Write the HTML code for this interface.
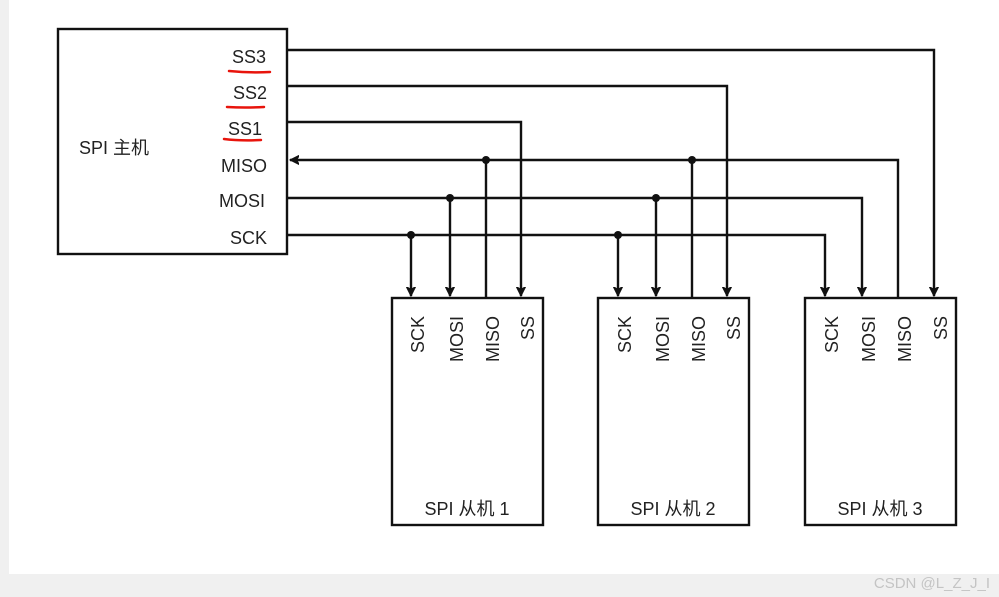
<!DOCTYPE html>
<html><head><meta charset="utf-8"><style>
html,body{margin:0;padding:0;background:#fff;}
svg{display:block;}
text{font-family:"Liberation Sans","Noto Sans CJK SC",sans-serif;fill:#222;font-size:18px;}
</style></head><body>
<svg width="999" height="597" viewBox="0 0 999 597" xmlns="http://www.w3.org/2000/svg">
<defs>
<marker id="a" markerWidth="10" markerHeight="10" refX="9" refY="5" orient="auto" markerUnits="userSpaceOnUse">
<path d="M0,0 L10,5 L0,10 L3,5 Z" fill="#111" transform="scale(1.2,1.2) translate(-1.5,-0.8)"/>
</marker>
</defs>
<rect x="0" y="0" width="9" height="597" fill="#f0f0f0"/>
<rect x="0" y="574" width="999" height="23" fill="#f0f0f0"/>
<text x="990" y="588" text-anchor="end" style="font-size:15px;fill:#c4c4c4">CSDN @L_Z_J_I</text>
<g stroke="#111" stroke-width="2.4" fill="none">
<rect x="58" y="29" width="229" height="225"/>
<rect x="392" y="298" width="151" height="227"/>
<rect x="598" y="298" width="151" height="227"/>
<rect x="805" y="298" width="151" height="227"/>
<polyline points="287,50 934,50 934,296" marker-end="url(#a)"/>
<polyline points="287,86 727,86 727,296" marker-end="url(#a)"/>
<polyline points="287,122 521,122 521,296" marker-end="url(#a)"/>
<polyline points="898,298 898,160 290,160" marker-end="url(#a)"/>
<line x1="486" y1="160" x2="486" y2="298"/>
<line x1="692" y1="160" x2="692" y2="298"/>
<polyline points="287,198 862,198 862,296" marker-end="url(#a)"/>
<line x1="450" y1="198" x2="450" y2="296" marker-end="url(#a)"/>
<line x1="656" y1="198" x2="656" y2="296" marker-end="url(#a)"/>
<polyline points="287,235 825,235 825,296" marker-end="url(#a)"/>
<line x1="411" y1="235" x2="411" y2="296" marker-end="url(#a)"/>
<line x1="618" y1="235" x2="618" y2="296" marker-end="url(#a)"/>
</g>
<g fill="#111">
<circle cx="486" cy="160" r="4"/><circle cx="692" cy="160" r="4"/>
<circle cx="450" cy="198" r="4"/><circle cx="656" cy="198" r="4"/>
<circle cx="411" cy="235" r="4"/><circle cx="618" cy="235" r="4"/>
</g>
<g text-anchor="end">
<text x="266" y="63">SS3</text>
<text x="267" y="99">SS2</text>
<text x="262" y="135">SS1</text>
<text x="267" y="172">MISO</text>
<text x="265" y="207">MOSI</text>
<text x="267" y="244">SCK</text>
</g>
<text x="79" y="154">SPI 主机</text>
<g stroke="#e8140c" stroke-width="2.5" fill="none" stroke-linecap="round">
<path d="M229,71 Q250,73 270,72"/>
<path d="M227,107 Q245,108 264,107"/>
<path d="M224,139 Q240,141 261,140"/>
</g>
<g text-anchor="end">
<text transform="translate(424,316) rotate(-90)">SCK</text>
<text transform="translate(463,316) rotate(-90)">MOSI</text>
<text transform="translate(499,316) rotate(-90)">MISO</text>
<text transform="translate(534,316) rotate(-90)">SS</text>
<text transform="translate(631,316) rotate(-90)">SCK</text>
<text transform="translate(669,316) rotate(-90)">MOSI</text>
<text transform="translate(705,316) rotate(-90)">MISO</text>
<text transform="translate(740,316) rotate(-90)">SS</text>
<text transform="translate(838,316) rotate(-90)">SCK</text>
<text transform="translate(875,316) rotate(-90)">MOSI</text>
<text transform="translate(911,316) rotate(-90)">MISO</text>
<text transform="translate(947,316) rotate(-90)">SS</text>
</g>
<g text-anchor="middle">
<text x="467" y="515">SPI 从机 1</text>
<text x="673" y="515">SPI 从机 2</text>
<text x="880" y="515">SPI 从机 3</text>
</g>
</svg>
</body></html>
